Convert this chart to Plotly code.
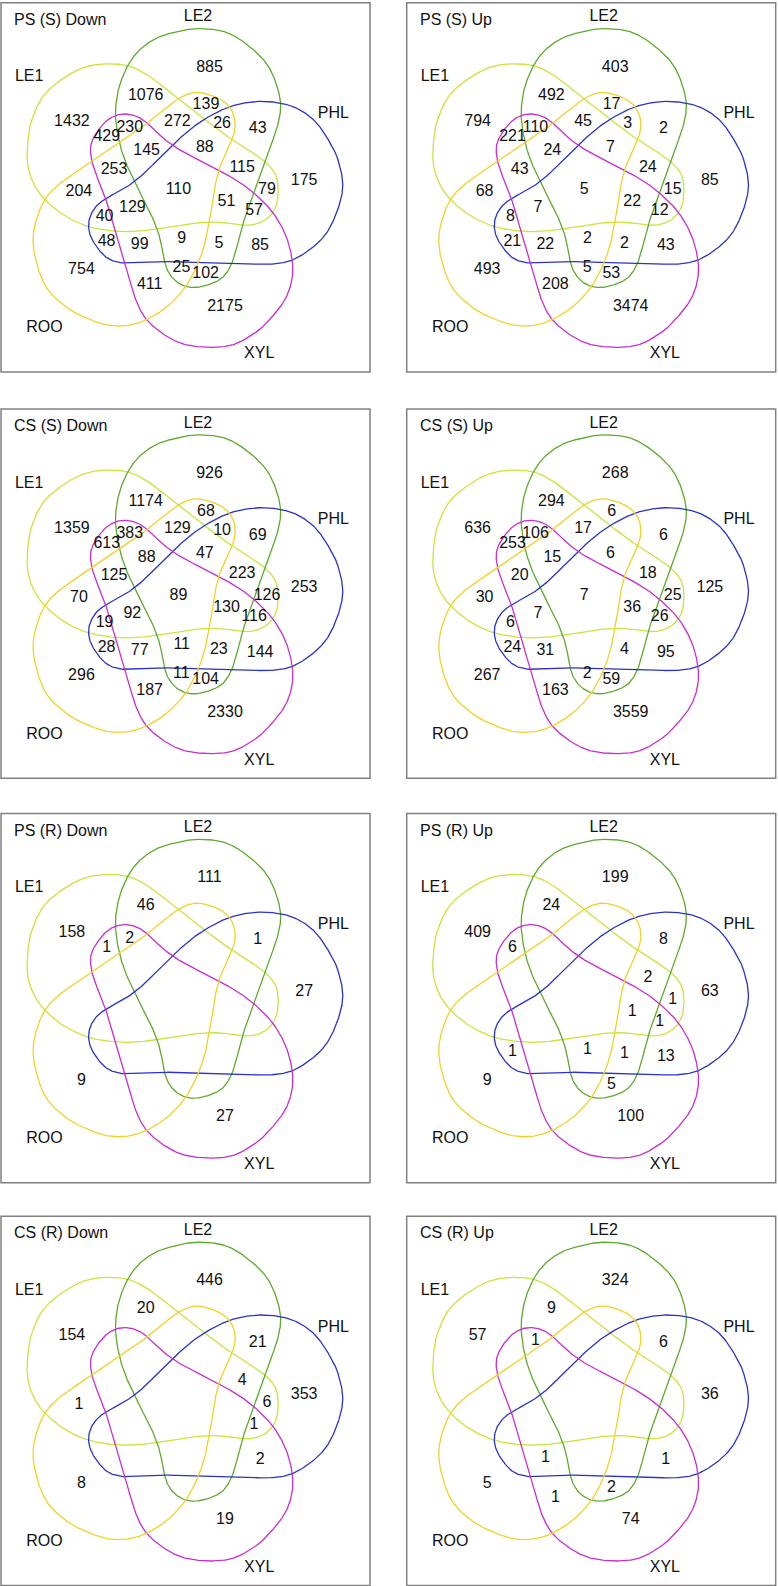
import numpy as np
import plotly.graph_objects as go

# ---------------- data ----------------
SETS = ["LE1", "LE2", "PHL", "XYL", "ROO"]
SET_COLORS = ["#c6e63a", "#5daa2c", "#2a33c8", "#c92ccf", "#f0d224"]

REGIONS = [
    "LE1", "LE2", "PHL", "XYL", "ROO",
    "LE1&LE2", "LE1&PHL", "LE1&XYL", "LE1&ROO", "LE2&PHL", "LE2&XYL", "LE2&ROO",
    "PHL&XYL", "PHL&ROO", "XYL&ROO",
    "LE1&LE2&PHL", "LE1&LE2&XYL", "LE1&LE2&ROO", "LE1&PHL&XYL", "LE1&PHL&ROO",
    "LE1&XYL&ROO", "LE2&PHL&XYL", "LE2&PHL&ROO", "LE2&XYL&ROO", "PHL&XYL&ROO",
    "LE1&LE2&PHL&XYL", "LE1&LE2&PHL&ROO", "LE1&LE2&XYL&ROO", "LE1&PHL&XYL&ROO",
    "LE2&PHL&XYL&ROO",
    "LE1&LE2&PHL&XYL&ROO",
]

TITLES = ["PS (S) Down", "PS (S) Up", "CS (S) Down", "CS (S) Up",
          "PS (R) Down", "PS (R) Up", "CS (R) Down", "CS (R) Up"]

N = None
PS_S_DOWN = [1432, 885, 175, 2175, 754,
             1076, 79, 429, 204, 43, 102, 139, 85, 48, 411,
             115, 230, 272, 57, 40, 253, 5, 26, 25, 99,
             51, 88, 145, 129, 9,
             110]
PS_S_UP = [794, 403, 85, 3474, 493,
           492, 15, 221, 68, 2, 53, 17, 43, 21, 208,
           24, 110, 45, 12, 8, 43, 2, 3, 5, 22,
           22, 7, 24, 7, 2,
           5]
CS_S_DOWN = [1359, 926, 253, 2330, 296,
             1174, 126, 613, 70, 69, 104, 68, 144, 28, 187,
             223, 383, 129, 116, 19, 125, 23, 10, 11, 77,
             130, 47, 88, 92, 11,
             89]
CS_S_UP = [636, 268, 125, 3559, 267,
           294, 25, 253, 30, 6, 59, 6, 95, 24, 163,
           18, 106, 17, 26, 6, 20, 4, N, 2, 31,
           36, 6, 15, 7, N,
           7]
PS_R_DOWN = [158, 111, 27, 27, 9,
             46, N, 1, N, 1, N, N, N, N, N,
             N, 2, N, N, N, N, N, N, N, N,
             N, N, N, N, N,
             N]
PS_R_UP = [409, 199, 63, 100, 9,
           24, 1, 6, N, 8, 5, N, 13, 1, N,
           2, N, N, 1, N, N, 1, N, N, N,
           1, N, N, N, 1,
           N]
CS_R_DOWN = [154, 446, 353, 19, 8,
             20, 6, N, 1, 21, N, N, 2, N, N,
             4, N, N, 1, N, N, N, N, N, N,
             N, N, N, N, N,
             N]
CS_R_UP = [57, 324, 36, 74, 5,
           9, N, N, N, 6, 2, N, 1, N, 1,
           N, 1, N, N, N, N, N, N, N, 1,
           N, N, N, N, N,
           N]
PANEL_COUNTS = [PS_S_DOWN, PS_S_UP, CS_S_DOWN, CS_S_UP,
                PS_R_DOWN, PS_R_UP, CS_R_DOWN, CS_R_UP]

# ---------------- layout / geometry ----------------
W, H = 778, 1586
COL_X = [0.0, 405.7]
ROW_Y = [0.0, 406.3, 810.7, 1213.6]
CENTER = (178.4, 189.6)          # diagram centre inside a panel
BOX = (1.0, 2.7, 370.0, 372.0)   # panel frame inside a panel
FONT = "Liberation Sans, Arial, Helvetica, sans-serif"
FS = 16

# rotation index of each set (72 deg steps, clockwise)
ROT = {"LE2": 0, "PHL": 1, "XYL": 2, "ROO": 3, "LE1": 4}

# outline template of one set (polar: angle cw from up [deg], radius [px])
SHAPE_TEMPLATE = [
    (7.4, 162.4), (17.3, 164.5), (28.2, 158.8), (37.5, 151.2), (48.6, 136.0),
    (56.2, 120.4), (64.9, 101.6), (74.9, 88.1), (84.9, 79.3), (103.7, 72.0),
    (124.7, 75.5), (137.9, 85.0), (146.0, 92.9), (155.0, 99.3), (169.0, 99.8),
    (178.8, 95.0), (186.9, 83.6), (192.6, 68.7), (199.8, 53.1), (219.8, 39.0),
    (254.0, 36.4), (282.5, 46.1), (301.0, 64.1), (313.0, 83.5), (321.8, 101.8),
    (331.5, 121.7), (341.3, 140.4), (350.5, 152.1), (359.6, 158.0),
]

# label template: (angle, radius) for each region type with k = 0
LBL_SINGLE = (14.3, 126.0)
LBL_ADJ2 = (52.8, 99.5)
LBL_NON2 = (162.1, 88.6)
LBL_CONS3 = (143.1, 67.4)
LBL_SKIP3 = (33.8, 78.6)
LBL_QUAD = (248.2, 49.6)

SET_LABEL_POS = {"LE2": (19.6, -172.3), "LE1": (-149.2, -112.3), "PHL": (154.9, -75.6),
                 "ROO": (-133.9, 138.7), "XYL": (80.8, 164.7)}
TITLE_POS = (13.0, 19.3)


def polar(theta, r):
    t = np.radians(theta)
    return r * np.sin(t), -r * np.cos(t)


def catmull_closed(P, n=24):
    P = np.asarray(P, float)
    M = len(P)
    t = np.linspace(0, 1, n, endpoint=False)[:, None]
    out = []
    for i in range(M):
        p0, p1, p2, p3 = P[(i - 1) % M], P[i], P[(i + 1) % M], P[(i + 2) % M]
        out.append(0.5 * (2 * p1 + (p2 - p0) * t + (2 * p0 - 5 * p1 + 4 * p2 - p3) * t ** 2
                          + (-p0 + 3 * p1 - 3 * p2 + p3) * t ** 3))
    out = np.vstack(out)
    return np.vstack([out, out[:1]])


def smooth_closed(P, sigma=4.0, M=720):
    d = np.hypot(*np.diff(P, axis=0).T)
    s = np.concatenate([[0.0], np.cumsum(d)])
    L = s[-1]
    u = np.linspace(0, L, M, endpoint=False)
    x = np.interp(u, s, P[:, 0])
    y = np.interp(u, s, P[:, 1])
    f = np.fft.fftfreq(M, d=L / M)
    G = np.exp(-2 * (np.pi * f * sigma) ** 2)
    xs = np.real(np.fft.ifft(np.fft.fft(x) * G))
    ys = np.real(np.fft.ifft(np.fft.fft(y) * G))
    out = np.column_stack([xs, ys])
    return np.vstack([out, out[:1]])


def outline(k):
    pts = [polar(th + 72 * k, r) for th, r in SHAPE_TEMPLATE]
    return smooth_closed(catmull_closed(pts))


def label_offset(region):
    m = sorted(ROT[s] for s in region.split("&"))
    n = len(m)
    ms = set(m)
    if n == 5:
        return 0.0, 0.0
    if n == 1:
        th, r = LBL_SINGLE
        k = m[0]
    elif n == 4:
        th, r = LBL_QUAD
        k = ({0, 1, 2, 3, 4} - ms).pop()
    elif n == 2:
        for k in range(5):
            if ms == {k, (k + 1) % 5}:
                th, r = LBL_ADJ2
                break
            if ms == {k, (k + 2) % 5}:
                th, r = LBL_NON2
                break
    else:
        for k in range(5):
            if ms == {k, (k + 1) % 5, (k + 2) % 5}:
                th, r = LBL_CONS3
                break
            if ms == {k, (k + 1) % 5, (k + 3) % 5}:
                th, r = LBL_SKIP3
                break
    return polar(th + 72 * k, r)


fig = go.Figure()
shapes = []
annotations = []

for p, (title, counts) in enumerate(zip(TITLES, PANEL_COUNTS)):
    ox = COL_X[p % 2]
    oy = ROW_Y[p // 2]
    cx, cy = ox + CENTER[0], oy + CENTER[1]
    shapes.append(dict(type="rect", xref="x", yref="y",
                       x0=ox + BOX[0], y0=oy + BOX[1], x1=ox + BOX[2], y1=oy + BOX[3],
                       line=dict(color="#808080", width=1.5), fillcolor="rgba(0,0,0,0)"))
    for s, col in zip(SETS, SET_COLORS):
        pts = outline(ROT[s])
        fig.add_trace(go.Scatter(x=pts[:, 0] + cx, y=pts[:, 1] + cy, mode="lines",
                                 line=dict(color=col, width=1.3), hoverinfo="skip",
                                 showlegend=False))
    xs, ys, ts = [], [], []
    for reg, v in zip(REGIONS, counts):
        if v is None:
            continue
        dx, dy = label_offset(reg)
        xs.append(cx + dx)
        ys.append(cy + dy)
        ts.append(str(v))
    fig.add_trace(go.Scatter(x=xs, y=ys, text=ts, mode="text", textposition="middle center",
                             textfont=dict(family=FONT, size=FS, color="#111111"),
                             hoverinfo="skip", showlegend=False))
    fig.add_trace(go.Scatter(x=[cx + SET_LABEL_POS[s][0] for s in SETS],
                             y=[cy + SET_LABEL_POS[s][1] for s in SETS],
                             text=SETS, mode="text", textposition="middle center",
                             textfont=dict(family=FONT, size=FS, color="#111111"),
                             hoverinfo="skip", showlegend=False))
    annotations.append(dict(x=ox + TITLE_POS[0], y=oy + TITLE_POS[1], xref="x", yref="y",
                            text=title, showarrow=False, xanchor="left", yanchor="middle",
                            borderpad=0, font=dict(family=FONT, size=FS, color="#111111")))

fig.update_layout(
    width=W, height=H, margin=dict(l=0, r=0, t=0, b=0),
    paper_bgcolor="white", plot_bgcolor="white",
    xaxis=dict(range=[0, W], visible=False, fixedrange=True),
    yaxis=dict(range=[H, 0], visible=False, fixedrange=True),
    shapes=shapes, annotations=annotations, showlegend=False,
)
fig.write_html("out.html", config={"displayModeBar": False},
               post_script="document.body.style.margin='0px';")
